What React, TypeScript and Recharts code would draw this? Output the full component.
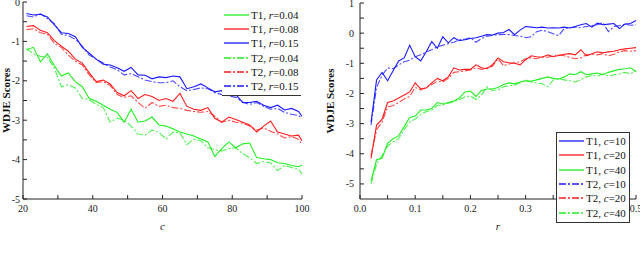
import { Line, LineChart, XAxis, YAxis } from 'recharts'

// left panel: score vs c
const cValues = [21, 23, 25, 27, 29, 31, 33, 35, 37, 39, 41, 43, 45, 47, 49, 51, 53, 55, 57, 59, 61, 63, 65, 67, 69, 71, 73, 75, 77, 79, 81, 83, 85, 87, 89, 91, 93, 95, 97, 99, 100]
const t1r004 = [-1.21, -1.15, -1.52, -1.32, -1.62, -1.88, -1.8, -2.02, -2.15, -2.45, -2.52, -2.62, -2.72, -2.8, -3.05, -2.72, -3.05, -3.02, -2.92, -3.12, -3.15, -3.22, -3.3, -3.35, -3.4, -3.48, -3.55, -3.92, -3.72, -3.55, -3.7, -3.6, -3.58, -3.95, -3.98, -4.0, -4.08, -4.1, -4.15, -4.18, -4.14]
const t1r008 = [-0.62, -0.6, -0.72, -0.78, -0.98, -1.12, -1.25, -1.45, -1.55, -1.8, -2.02, -1.98, -2.08, -2.3, -2.38, -2.25, -2.45, -2.35, -2.4, -2.5, -2.45, -2.52, -2.32, -2.65, -2.72, -2.75, -2.68, -2.95, -3.05, -2.92, -2.98, -3.05, -3.12, -3.3, -3.15, -3.02, -3.3, -3.35, -3.4, -3.38, -3.52]
const t1r015 = [-0.29, -0.33, -0.31, -0.38, -0.58, -0.78, -0.8, -0.88, -1.15, -1.3, -1.45, -1.58, -1.6, -1.67, -1.76, -1.66, -1.85, -1.86, -1.95, -1.9, -1.92, -1.88, -1.9, -2.2, -2.15, -2.08, -2.18, -2.28, -2.25, -2.3, -2.35, -2.55, -2.55, -2.52, -2.62, -2.68, -2.62, -2.74, -2.7, -2.78, -2.9]
const t2r004 = [-1.18, -1.32, -1.38, -1.4, -1.68, -2.15, -2.1, -2.18, -2.45, -2.48, -2.6, -2.68, -3.05, -2.95, -3.0, -3.15, -3.35, -3.38, -3.25, -3.3, -3.48, -3.3, -3.32, -3.62, -3.48, -3.52, -3.7, -3.75, -3.78, -3.72, -3.7, -3.85, -3.95, -4.1, -4.05, -4.08, -4.28, -4.15, -4.2, -4.25, -4.36]
const t2r008 = [-0.7, -0.68, -0.78, -0.82, -1.05, -1.15, -1.35, -1.5, -1.6, -1.85, -2.05, -2.02, -2.12, -2.35, -2.42, -2.38, -2.55, -2.7, -2.55, -2.65, -2.62, -2.68, -2.7, -2.75, -2.78, -2.8, -2.78, -2.9, -3.05, -3.0, -3.05, -3.08, -3.15, -3.25, -3.2, -3.28, -3.35, -3.45, -3.42, -3.48, -3.62]
const t2r015 = [-0.35, -0.38, -0.3, -0.42, -0.55, -0.82, -0.85, -0.95, -1.12, -1.35, -1.45, -1.55, -1.65, -1.72, -1.85, -1.82, -1.9, -1.98, -2.02, -2.05, -2.05, -2.0, -2.15, -2.25, -2.22, -2.18, -2.2, -2.3, -2.35, -2.38, -2.42, -2.55, -2.6, -2.55, -2.65, -2.72, -2.7, -2.8, -2.85, -2.88, -2.95]

// right panel: score vs r
const rValues = [0.02, 0.03, 0.04, 0.05, 0.06, 0.07, 0.08, 0.09, 0.1, 0.11, 0.12, 0.13, 0.14, 0.15, 0.16, 0.17, 0.18, 0.19, 0.2, 0.21, 0.22, 0.23, 0.24, 0.25, 0.26, 0.27, 0.28, 0.29, 0.3, 0.31, 0.32, 0.33, 0.34, 0.35, 0.36, 0.37, 0.38, 0.39, 0.4, 0.41, 0.42, 0.43, 0.44, 0.45, 0.46, 0.47, 0.48, 0.49, 0.5]
const t1c10 = [-2.95, -1.55, -1.3, -1.58, -1.25, -0.92, -0.82, -0.4, -0.78, -0.92, -0.62, -0.28, -0.5, -0.12, -0.32, -0.15, -0.25, -0.22, -0.18, -0.15, -0.1, -0.05, -0.06, 0.0, 0.02, 0.12, -0.05, 0.1, 0.22, 0.2, 0.18, 0.2, 0.17, 0.18, 0.17, 0.2, 0.17, 0.22, 0.28, 0.32, 0.2, 0.33, 0.28, 0.3, 0.32, 0.15, 0.3, 0.32, 0.42]
const t1c20 = [-4.15, -3.05, -2.85, -2.3, -2.25, -2.15, -2.05, -1.95, -1.65, -1.85, -1.82, -1.65, -1.5, -1.58, -1.45, -1.15, -1.22, -1.2, -1.2, -1.05, -1.15, -1.18, -1.05, -0.82, -0.95, -0.98, -1.0, -1.05, -0.88, -0.75, -0.78, -0.8, -0.72, -0.78, -0.74, -0.7, -0.68, -0.72, -0.55, -0.75, -0.68, -0.62, -0.65, -0.62, -0.6, -0.55, -0.52, -0.5, -0.48]
const t1c40 = [-4.9, -4.2, -4.15, -3.65, -3.5, -3.4, -3.1, -2.8, -2.75, -2.55, -2.55, -2.5, -2.3, -2.35, -2.3, -2.25, -2.15, -1.95, -1.92, -2.1, -1.9, -1.85, -1.85, -1.8, -1.7, -1.65, -1.68, -1.62, -1.58, -1.6, -1.55, -1.5, -1.45, -1.5, -1.52, -1.45, -1.35, -1.38, -1.28, -1.38, -1.35, -1.32, -1.38, -1.3, -1.25, -1.2, -1.18, -1.15, -1.28]
const t2c10 = [-3.05, -1.8, -1.4, -1.15, -1.18, -1.05, -0.95, -0.9, -0.78, -0.72, -0.62, -0.55, -0.45, -0.4, -0.35, -0.3, -0.22, -0.2, -0.15, -0.3, -0.18, -0.1, -0.08, -0.05, -0.04, -0.05, -0.08, -0.1, -0.15, -0.12, 0.05, 0.1, 0.05, -0.02, -0.08, 0.15, 0.18, 0.2, 0.18, 0.22, 0.25, 0.28, 0.35, 0.05, 0.22, 0.25, 0.3, 0.26, 0.28]
const t2c20 = [-4.05, -3.2, -2.95, -2.45, -2.4, -2.3, -2.18, -2.1, -1.8, -1.88, -1.8, -1.7, -1.6, -1.62, -1.5, -1.3, -1.28, -1.25, -1.22, -1.15, -1.2, -1.15, -1.1, -0.85, -1.08, -1.02, -0.98, -0.95, -0.85, -0.82, -0.85, -0.78, -0.8, -0.75, -0.72, -0.75, -0.8, -0.85, -0.82, -0.72, -0.7, -0.72, -0.68, -0.75, -0.7, -0.62, -0.58, -0.6, -0.58]
const t2c40 = [-5.0, -4.35, -4.05, -3.75, -3.6, -3.5, -3.2, -2.95, -2.85, -2.7, -2.6, -2.55, -2.4, -2.38, -2.32, -2.28, -2.2, -2.12, -2.08, -2.2, -2.05, -1.78, -1.9, -1.88, -1.78, -1.75, -1.72, -1.65, -1.55, -1.62, -1.65, -1.68, -1.78, -1.55, -1.52, -1.55, -1.58, -1.62, -1.55, -1.45, -1.4, -1.42, -1.35, -1.42, -1.38, -1.35, -1.3, -1.35, -1.25]

const cTicks = [20, 30, 40, 50, 60, 70, 80, 90, 100]
const leftYTicks = [-5, -4.5, -4, -3.5, -3, -2.5, -2, -1.5, -1, -0.5, 0]
const rTicks = [0, 0.05, 0.1, 0.15, 0.2, 0.25, 0.3, 0.35, 0.4, 0.45, 0.5]
const rightYTicks = [-5, -4.5, -4, -3.5, -3, -2.5, -2, -1.5, -1, -0.5, 0, 0.5, 1]

const GREEN = '#22ee22'
const RED = '#ff1a1a'
const BLUE = '#1a1aff'
const DASHDOT = '7 2 2 2'
const FONT = '"Liberation Serif", "DejaVu Serif", serif'

type SeriesDef = { key: string; name: string; color: string; dashed: boolean }

const leftSeries: SeriesDef[] = [
  { key: 'a', name: 'T1, r=0.04', color: GREEN, dashed: false },
  { key: 'b', name: 'T1, r=0.08', color: RED, dashed: false },
  { key: 'c', name: 'T1, r=0.15', color: BLUE, dashed: false },
  { key: 'd', name: 'T2, r=0.04', color: GREEN, dashed: true },
  { key: 'e', name: 'T2, r=0.08', color: RED, dashed: true },
  { key: 'f', name: 'T2, r=0.15', color: BLUE, dashed: true },
]
const rightSeries: SeriesDef[] = [
  { key: 'a', name: 'T1, c=10', color: BLUE, dashed: false },
  { key: 'b', name: 'T1, c=20', color: RED, dashed: false },
  { key: 'c', name: 'T1, c=40', color: GREEN, dashed: false },
  { key: 'd', name: 'T2, c=10', color: BLUE, dashed: true },
  { key: 'e', name: 'T2, c=20', color: RED, dashed: true },
  { key: 'f', name: 'T2, c=40', color: GREEN, dashed: true },
]

const leftData = cValues.map((x, i) => ({
  x, a: t1r004[i], b: t1r008[i], c: t1r015[i], d: t2r004[i], e: t2r008[i], f: t2r015[i],
}))
const rightData = rValues.map((x, i) => ({
  x, a: t1c10[i], b: t1c20[i], c: t1c40[i], d: t2c10[i], e: t2c20[i], f: t2c40[i],
}))

function LegendBox({ series, varName, rowH, box }: { series: SeriesDef[]; varName: string; rowH: number; box: boolean }) {
  return (
    <div
      style={{
        fontFamily: FONT,
        fontSize: 11,
        color: '#111',
        background: '#fff',
        border: box ? '1px solid #333' : 'none',
        borderBottom: '1.5px solid #333',
        padding: '1px 3px 2px 2px',
      }}
    >
      {series.map((s) => {
        const [lead, val] = s.name.split(varName + '=')
        return (
          <div key={s.key} style={{ display: 'flex', alignItems: 'center', height: rowH, whiteSpace: 'nowrap' }}>
            <svg width={25} height={6} style={{ marginRight: 2 }}>
              <line x1={0} y1={3} x2={25} y2={3} stroke={s.color} strokeWidth={1.3} strokeDasharray={s.dashed ? DASHDOT : undefined} />
            </svg>
            <span>
              {lead}
              <i>{varName}</i>={val}
            </span>
          </div>
        )
      })}
    </div>
  )
}

const tickStyle = { fill: '#222', fontSize: 10, fontFamily: FONT }
const axisStroke = '#222'

function intLabel(v: number) {
  return Number.isInteger(v) ? String(v) : ''
}
function cLabel(v: number) {
  return v % 20 === 0 ? String(v) : ''
}
function rLabel(v: number) {
  return Math.round(v * 100) % 10 === 0 ? v.toFixed(1) : ''
}

function renderLines(series: SeriesDef[]) {
  return series.map((s) => (
    <Line
      key={s.key}
      type="linear"
      dataKey={s.key}
      name={s.name}
      stroke={s.color}
      strokeOpacity={s.dashed ? 0.8 : 1}
      strokeWidth={1.1}
      strokeDasharray={s.dashed ? DASHDOT : undefined}
      dot={false}
      activeDot={false}
      isAnimationActive={false}
    />
  ))
}

export default function App() {
  return (
    <div style={{ position: 'absolute', left: 0, top: 0, width: 640, height: 256, background: '#fff' }}>
      <div style={{ position: 'absolute', left: 0, top: 0 }}>
        <LineChart width={320} height={256} data={leftData} margin={{ top: 2, right: 18, bottom: 27, left: 0 }}>
          <XAxis
            dataKey="x"
            type="number"
            domain={[20, 100]}
            ticks={cTicks}
            interval={0}
            tickFormatter={cLabel}
            tick={tickStyle}
            tickSize={-4}
            tickMargin={10}
            stroke={axisStroke}
            label={{ value: 'c', position: 'insideBottom', offset: -1, style: { fontStyle: 'italic', fontFamily: FONT, fontSize: 11, fill: '#222' } }}
          />
          <XAxis xAxisId="top" orientation="top" type="number" domain={[20, 100]} ticks={cTicks} interval={0} tickFormatter={() => ''} tickSize={-4} stroke={axisStroke} height={0} />
          <YAxis
            type="number"
            domain={[-5, 0]}
            ticks={leftYTicks}
            interval={0}
            tickFormatter={intLabel}
            tick={tickStyle}
            tickSize={-4}
            tickMargin={7}
            width={23}
            stroke={axisStroke}
            label={{ value: 'WDJE Scores', angle: -90, position: 'insideLeft', offset: 6, style: { fontWeight: 700, fontFamily: FONT, fontSize: 11, fill: '#111', textAnchor: 'middle' } }}
          />
          <YAxis yAxisId="right" orientation="right" type="number" domain={[-5, 0]} ticks={leftYTicks} interval={0} tickFormatter={() => ''} tickSize={-4} width={0} stroke={axisStroke} />
          {renderLines(leftSeries)}
        </LineChart>
        <div style={{ position: 'absolute', left: 222, top: 7 }}>
          <LegendBox series={leftSeries} varName="r" rowH={14.2} box={false} />
        </div>
      </div>
      <div style={{ position: 'absolute', left: 320, top: 0 }}>
        <LineChart width={320} height={256} data={rightData} margin={{ top: 3, right: 4, bottom: 27, left: 0 }}>
          <XAxis
            dataKey="x"
            type="number"
            domain={[0, 0.5]}
            ticks={rTicks}
            interval={0}
            tickFormatter={rLabel}
            tick={tickStyle}
            tickSize={-4}
            tickMargin={10}
            stroke={axisStroke}
            label={{ value: 'r', position: 'insideBottom', offset: -1, style: { fontStyle: 'italic', fontFamily: FONT, fontSize: 11, fill: '#222' } }}
          />
          <XAxis xAxisId="top" orientation="top" type="number" domain={[0, 0.5]} ticks={rTicks} interval={0} tickFormatter={() => ''} tickSize={-4} stroke={axisStroke} height={0} />
          <YAxis
            type="number"
            domain={[-5.5, 1]}
            ticks={rightYTicks}
            interval={0}
            tickFormatter={intLabel}
            tick={tickStyle}
            tickSize={-4}
            tickMargin={10}
            width={40}
            stroke={axisStroke}
            label={{ value: 'WDJE Scores', angle: -90, position: 'insideLeft', offset: 10, style: { fontWeight: 700, fontFamily: FONT, fontSize: 11, fill: '#111', textAnchor: 'middle' } }}
          />
          <YAxis yAxisId="right" orientation="right" type="number" domain={[-5.5, 1]} ticks={rightYTicks} interval={0} tickFormatter={() => ''} tickSize={-4} width={0} stroke={axisStroke} />
          {renderLines(rightSeries)}
        </LineChart>
        <div style={{ position: 'absolute', left: 236, top: 132 }}>
          <LegendBox series={rightSeries} varName="c" rowH={14.3} box={true} />
        </div>
      </div>
    </div>
  )
}
